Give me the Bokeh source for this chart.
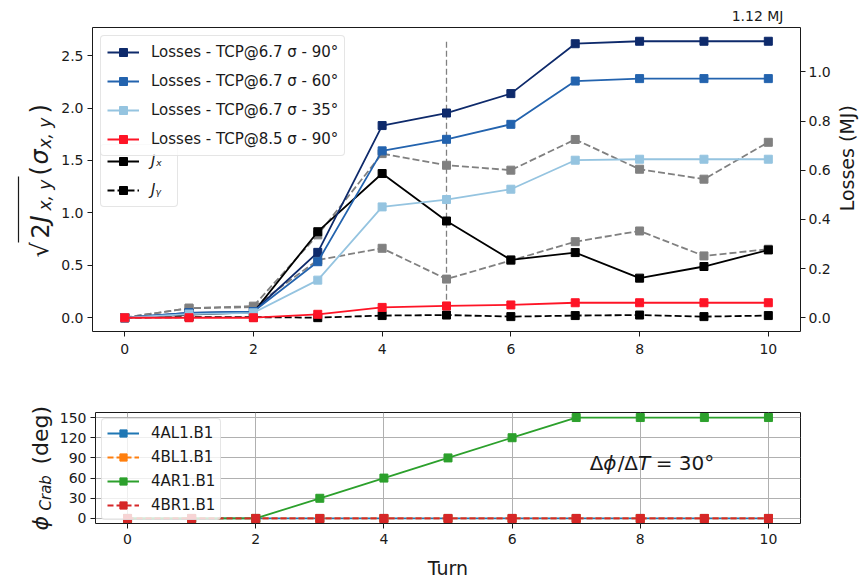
import math
from bokeh.plotting import figure
from bokeh.models import (Range1d, LinearAxis, FixedTicker, PrintfTickFormatter,
                          Legend, LegendItem, Label)
from bokeh.layouts import column, row
from bokeh.embed import file_html
from bokeh.resources import INLINE
from bokeh.core.properties import value

# ---------------- data ----------------
turns = [0, 1, 2, 3, 4, 5, 6, 7, 8, 9, 10]

# losses (MJ, right axis)
loss_67_90 = [0.0, 0.02, 0.025, 0.266, 0.782, 0.833, 0.912, 1.115, 1.125, 1.125, 1.125]
loss_67_60 = [0.0, 0.02, 0.025, 0.228, 0.679, 0.726, 0.787, 0.963, 0.973, 0.973, 0.973]
loss_67_35 = [0.0, 0.015, 0.02, 0.153, 0.451, 0.481, 0.523, 0.641, 0.645, 0.645, 0.645]
loss_85_90 = [0.0, 0.0, 0.0, 0.014, 0.042, 0.048, 0.052, 0.061, 0.061, 0.061, 0.061]

# actions (sigma, left axis)
jx = [0.0, 0.03, 0.05, 0.82, 1.375, 0.922, 0.551, 0.621, 0.377, 0.488, 0.646]
jy = [0.0, 0.005, 0.005, 0.0, 0.02, 0.025, 0.01, 0.02, 0.025, 0.01, 0.02]
jx_ref = [0.0, 0.09, 0.11, 0.79, 1.565, 1.454, 1.407, 1.70, 1.416, 1.321, 1.673]
jy_ref = [0.0, 0.09, 0.10, 0.55, 0.662, 0.368, 0.545, 0.725, 0.827, 0.589, 0.653]

marker_turn = 5
marker_top = 2.636
max_loss_label = "1.12 MJ"

# crab cavity phases (deg)
phi_4AL1 = [0, 0, 0, 0, 0, 0, 0, 0, 0, 0, 0]
phi_4BL1 = [0, 0, 0, 0, 0, 0, 0, 0, 0, 0, 0]
phi_4AR1 = [0, 0, 0, 30, 60, 90, 120, 150, 150, 150, 150]
phi_4BR1 = [0, 0, 0, 0, 0, 0, 0, 0, 0, 0, 0]

x_ticks = [0, 2, 4, 6, 8, 10]
left_ticks = [0.0, 0.5, 1.0, 1.5, 2.0, 2.5]
right_ticks = [0.0, 0.2, 0.4, 0.6, 0.8, 1.0]
phi_ticks = [0, 30, 60, 90, 120, 150]

FONT = "DejaVu Sans"
TXT = "#1a1a1a"
LW = 56          # width of left label strip
PW = 778         # width of top panel
TOP_H = 24       # strip above top panel
ROW1_H = 358
ROW2_H = 200
PAGE_BOTTOM = TOP_H + ROW1_H + ROW2_H


def style_axis(ax, ticks, fmt=None):
    ax.ticker = FixedTicker(ticks=ticks)
    if fmt:
        ax.formatter = PrintfTickFormatter(format=fmt)
    ax.axis_line_color = None
    ax.major_tick_line_color = TXT
    ax.major_tick_out = 5
    ax.major_tick_in = 0
    ax.minor_tick_line_color = None
    ax.major_label_text_font = FONT
    ax.major_label_text_font_size = "14px"
    ax.major_label_text_color = TXT
    ax.major_label_standoff = 4


def series(fig, y, color, dash="solid", rng=None, lw=1.8):
    kw = {"y_range_name": rng} if rng else {}
    l = fig.line(turns, y, line_color=color, line_width=lw, line_dash=dash, **kw)
    s = fig.scatter(turns, y, marker="square", size=8, fill_color=color,
                    line_color=color, **kw)
    return [l, s]


def style_legend(leg, lh=20):
    leg.label_text_font = FONT
    leg.label_text_font_size = "15px"
    leg.label_text_color = TXT
    leg.glyph_width = 32
    leg.glyph_height = lh
    leg.label_height = lh
    leg.label_standoff = 12
    leg.padding = 6
    leg.background_fill_color = "white"
    leg.background_fill_alpha = 0.8
    leg.border_line_color = "#cccccc"
    leg.border_line_width = 1
    try:
        leg.border_radius = 4
    except Exception:
        pass


def blank(w, h):
    f = figure(width=w, height=h, output_backend="svg", toolbar_location=None,
               title=None, x_range=Range1d(0, w), y_range=Range1d(0, h),
               x_axis_type=None, y_axis_type=None,
               min_border_left=0, min_border_right=0, min_border_top=0,
               min_border_bottom=0)
    f.outline_line_color = None
    f.grid.visible = False
    return f


def rot_text(fig, pieces, x0, y_center):
    total = sum(pc[4] for pc in pieces)
    y = y_center - total / 2.0
    starts = []
    for text, size, style, dx, adv in pieces:
        fig.text(x=[x0 + dx], y=[y], text=[text], angle=math.pi / 2,
                 text_align="left", text_baseline="alphabetic",
                 text_font=value(FONT), text_font_size=f"{size}px",
                 text_font_style=style, text_color=TXT)
        starts.append(y)
        y += adv
    return starts


# ---------------- strip above ----------------
top = blank(860, TOP_H)
top.text(x=[783], y=[TOP_H - 15], text=[max_loss_label], text_align="right",
         text_baseline="middle", text_font=value(FONT),
         text_font_size="14px", text_color=TXT)

# ---------------- top panel ----------------
p = figure(width=PW, height=ROW1_H, output_backend="svg", toolbar_location=None,
           x_range=Range1d(-0.5, 10.5), y_range=Range1d(-0.132, 2.768),
           min_border_left=36, min_border_right=PW - 36 - 708, min_border_top=3,
           min_border_bottom=51)
p.extra_y_ranges = {"loss": Range1d(-0.056, 1.181)}
p.xgrid.visible = False
p.ygrid.visible = False
p.outline_line_color = TXT
p.outline_line_width = 1
style_axis(p.xaxis[0], x_ticks)
p.xaxis[0].major_label_standoff = 7
style_axis(p.yaxis[0], left_ticks, "%.1f")
rax = LinearAxis(y_range_name="loss")
style_axis(rax, right_ticks, "%.1f")
rax.major_label_standoff = 3
p.add_layout(rax, "right")

p.segment(x0=[marker_turn], y0=[0.0], x1=[marker_turn], y1=[marker_top],
          line_color="gray", line_width=1.3, line_dash="6 3")
series(p, jx_ref, "gray", dash="7 3")
series(p, jy_ref, "gray", dash="7 3")
r_jx = series(p, jx, "black")
r_jy = series(p, jy, "black", dash="7 3")
r90 = series(p, loss_67_90, "#0e2a6b", rng="loss")
r60 = series(p, loss_67_60, "#2363ae", rng="loss")
r35 = series(p, loss_67_35, "#95c4e0", rng="loss")
r85 = series(p, loss_85_90, "#fe1426", rng="loss")

leg2 = Legend(items=[LegendItem(label="Jₓ", renderers=r_jx),
                     LegendItem(label="Jᵧ", renderers=r_jy)],
              location=(8, 124), spacing=9)
style_legend(leg2)
leg2.label_text_font_style = "italic"
p.add_layout(leg2)

leg1 = Legend(items=[LegendItem(label="Losses - TCP@6.7 σ - 90°", renderers=r90),
                     LegendItem(label="Losses - TCP@6.7 σ - 60°", renderers=r60),
                     LegendItem(label="Losses - TCP@6.7 σ - 35°", renderers=r35),
                     LegendItem(label="Losses - TCP@8.5 σ - 90°", renderers=r85)],
              location="top_left", margin=8, spacing=9)
style_legend(leg1)
p.add_layout(leg1)

# right label strip
RW = 860 - LW - PW
labR = blank(RW, ROW1_H)
labR.text(x=[846 - (LW + PW)], y=[ROW1_H + TOP_H - 178], text=["Losses (MJ)"],
          angle=math.pi / 2, text_align="center", text_baseline="middle",
          text_font=value(FONT), text_font_size="19px", text_color=TXT)

# ---------------- bottom panel ----------------
q = figure(width=860 - LW, height=ROW2_H, output_backend="svg", toolbar_location=None,
           x_range=Range1d(-0.5, 10.5), y_range=Range1d(-7.5, 157.5),
           min_border_left=36, min_border_right=60, min_border_top=30,
           min_border_bottom=59)
q.outline_line_color = TXT
q.outline_line_width = 1
style_axis(q.xaxis[0], x_ticks)
style_axis(q.yaxis[0], phi_ticks)
q.xaxis[0].major_label_standoff = 5
q.xgrid.ticker = FixedTicker(ticks=x_ticks)
q.ygrid.ticker = FixedTicker(ticks=phi_ticks)
for g in (q.xgrid[0], q.ygrid[0]):
    g.grid_line_color = "#b0b0b0"
    g.grid_line_width = 1
q.xaxis.axis_label = "Turn"
q.xaxis.axis_label_text_font = FONT
q.xaxis.axis_label_text_font_size = "19px"
q.xaxis.axis_label_text_font_style = "normal"
q.xaxis.axis_label_text_color = TXT
q.xaxis.axis_label_standoff = 10

b1 = series(q, phi_4AL1, "#1f77b4")
b2 = series(q, phi_4BL1, "#ff7f0e", dash="6 3")
b3 = series(q, phi_4AR1, "#2ca02c")
b4 = series(q, phi_4BR1, "#d62728", dash="6 3")
leg3 = Legend(items=[LegendItem(label="4AL1.B1", renderers=b1),
                     LegendItem(label="4BL1.B1", renderers=b2),
                     LegendItem(label="4AR1.B1", renderers=b3),
                     LegendItem(label="4BR1.B1", renderers=b4)],
              location="top_left", margin=6, spacing=6)
style_legend(leg3, lh=18)
leg3.padding = 5
q.add_layout(leg3)

# annotation  Δϕ/ΔT = 30°  (italic ϕ and T)
ann_x, ann_y = 7.21, 83
ann_pieces = [("Δ", "normal", 0), ("ϕ", "italic", 13.7), ("/", "normal", 28),
              ("Δ", "normal", 34.7), ("T", "italic", 48.4), ("= 30°", "normal", 66)]
for t, sty, off in ann_pieces:
    q.add_layout(Label(x=ann_x, y=ann_y, x_offset=off, text=t, text_align="left",
                       text_baseline="middle", text_font=FONT,
                       text_font_size="20px", text_font_style=sty,
                       text_color=TXT))

# ---------------- left label strip (spans both panels) ----------------
labL = blank(LW, ROW1_H + ROW2_H)
top_pieces = [("√", 24, "normal", 0, 19),
              ("2", 24, "normal", 0, 16),
              ("J", 24, "italic", 0, 12),
              ("x, y", 17, "italic", 5, 35),
              ("(", 24, "normal", 0, 11),
              ("σ", 24, "italic", 0, 16),
              ("x, y", 17, "italic", 5, 35),
              (")", 24, "normal", 0, 10)]
st = rot_text(labL, top_pieces, 39, PAGE_BOTTOM - 180)
labL.segment(x0=[18], y0=[st[1] - 4], x1=[18], y1=[st[4] - 1],
             line_color=TXT, line_width=1.2)

bot_pieces = [("ϕ", 22, "italic", 0, 20),
              ("Crab", 15, "italic", 5, 46),
              ("(deg)", 22, "normal", 0, 60)]
rot_text(labL, bot_pieces, 40, PAGE_BOTTOM - 467)

layout = column(top,
                row(labL,
                    column(row(p, labR, spacing=0), q, spacing=0),
                    spacing=0),
                spacing=0)
with open("out.html", "w") as f:
    f.write(file_html(layout, INLINE))
